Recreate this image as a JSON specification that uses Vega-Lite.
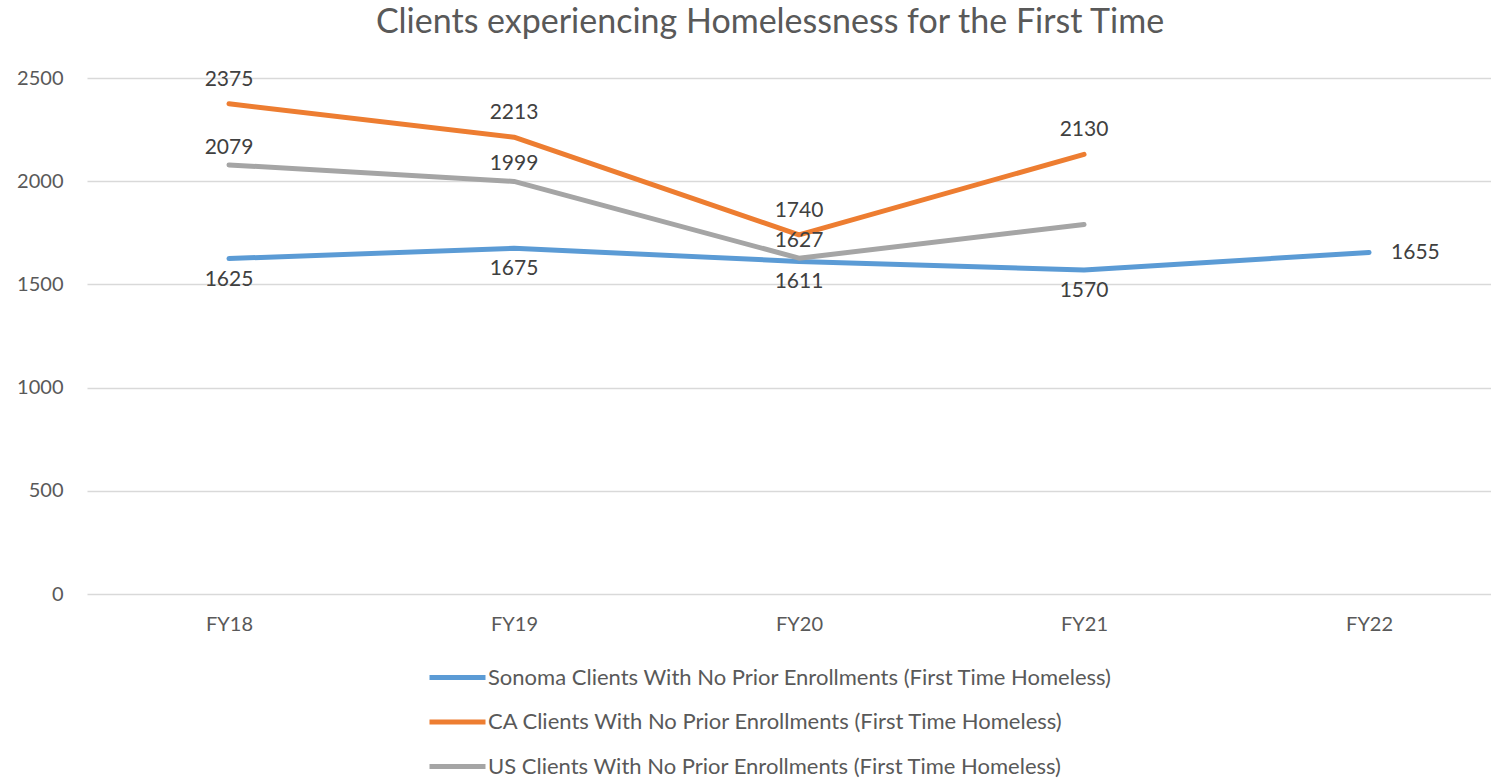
{
  "$schema": "https://vega.github.io/schema/vega-lite/v6.json",
  "autosize": "none",
  "width": 1404,
  "height": 516,
  "padding": {"left": 87, "top": 78, "right": 0, "bottom": 184},
  "background": "white",
  "title": {
    "text": "Clients experiencing Homelessness for the First Time",
    "font": "Lato",
    "fontSize": 34,
    "fontWeight": "normal",
    "color": "#595959",
    "anchor": "middle",
    "dx": -19,
    "offset": 28
  },
  "config": {
    "view": {"stroke": null},
    "font": "Lato"
  },
  "data": {
    "values": [
      {"series": "Sonoma Clients With No Prior Enrollments (First Time Homeless)", "year": "FY18", "value": 1625},
      {"series": "Sonoma Clients With No Prior Enrollments (First Time Homeless)", "year": "FY19", "value": 1675},
      {"series": "Sonoma Clients With No Prior Enrollments (First Time Homeless)", "year": "FY20", "value": 1611},
      {"series": "Sonoma Clients With No Prior Enrollments (First Time Homeless)", "year": "FY21", "value": 1570},
      {"series": "Sonoma Clients With No Prior Enrollments (First Time Homeless)", "year": "FY22", "value": 1655},
      {"series": "CA Clients With No Prior Enrollments (First Time Homeless)", "year": "FY18", "value": 2375},
      {"series": "CA Clients With No Prior Enrollments (First Time Homeless)", "year": "FY19", "value": 2213},
      {"series": "CA Clients With No Prior Enrollments (First Time Homeless)", "year": "FY20", "value": 1740},
      {"series": "CA Clients With No Prior Enrollments (First Time Homeless)", "year": "FY21", "value": 2130},
      {"series": "US Clients With No Prior Enrollments (First Time Homeless)", "year": "FY18", "value": 2079},
      {"series": "US Clients With No Prior Enrollments (First Time Homeless)", "year": "FY19", "value": 1999},
      {"series": "US Clients With No Prior Enrollments (First Time Homeless)", "year": "FY20", "value": 1627},
      {"series": "US Clients With No Prior Enrollments (First Time Homeless)", "year": "FY21", "value": 1790}
    ]
  },
  "encoding": {
    "x": {
      "field": "year",
      "type": "ordinal",
      "sort": ["FY18", "FY19", "FY20", "FY21", "FY22"],
      "scale": {"type": "point", "domain": ["FY18", "FY19", "FY20", "FY21", "FY22"], "padding": 0.463, "align": 0.538},
      "axis": {
        "title": null,
        "domain": false,
        "ticks": false,
        "grid": false,
        "labelAngle": 0,
        "labelFont": "Lato",
        "labelFontSize": 20,
        "labelColor": "#595959",
        "labelPadding": 20
      }
    },
    "y": {
      "field": "value",
      "type": "quantitative",
      "scale": {"domain": [0, 2500], "nice": false},
      "axis": {
        "title": null,
        "values": [0, 500, 1000, 1500, 2000, 2500],
        "format": "d",
        "domain": false,
        "ticks": false,
        "grid": true,
        "gridColor": "#D9D9D9",
        "gridWidth": 1.3,
        "labelFont": "Lato",
        "labelFontSize": 20,
        "labelColor": "#595959",
        "labelPadding": 24
      }
    }
  },
  "layer": [
    {
      "mark": {"type": "line", "strokeWidth": 5, "strokeCap": "round", "strokeJoin": "round"},
      "encoding": {
        "color": {
          "field": "series",
          "type": "nominal",
          "scale": {
            "domain": [
              "Sonoma Clients With No Prior Enrollments (First Time Homeless)",
              "CA Clients With No Prior Enrollments (First Time Homeless)",
              "US Clients With No Prior Enrollments (First Time Homeless)"
            ],
            "range": ["#5B9BD5", "#ED7D31", "#A5A5A5"]
          },
          "legend": {
            "title": null,
            "orient": "none",
            "direction": "vertical",
            "legendX": 340,
            "legendY": 569,
            "symbolType": "stroke",
            "symbolSize": 3136,
            "symbolStrokeWidth": 5,
            "labelFont": "Lato",
            "labelFontSize": 22,
            "labelColor": "#595959",
            "labelLimit": 1000,
            "labelOffset": 0,
            "rowPadding": 2.5
          }
        }
      }
    },
    {
      "transform": [{"filter": "indexof(datum.series, 'CA ') === 0"}],
      "mark": {"type": "text", "dy": -24, "baseline": "middle", "font": "Lato", "fontSize": 21, "color": "#404040"},
      "encoding": {"text": {"field": "value", "type": "quantitative"}}
    },
    {
      "transform": [{"filter": "indexof(datum.series, 'US ') === 0 && datum.year !== 'FY21'"}],
      "mark": {"type": "text", "dy": -17, "baseline": "middle", "font": "Lato", "fontSize": 21, "color": "#404040"},
      "encoding": {"text": {"field": "value", "type": "quantitative"}}
    },
    {
      "transform": [{"filter": "indexof(datum.series, 'Sonoma') === 0 && datum.year !== 'FY22'"}],
      "mark": {"type": "text", "dy": 21, "baseline": "middle", "font": "Lato", "fontSize": 21, "color": "#404040"},
      "encoding": {"text": {"field": "value", "type": "quantitative"}}
    },
    {
      "transform": [{"filter": "indexof(datum.series, 'Sonoma') === 0 && datum.year === 'FY22'"}],
      "mark": {"type": "text", "dx": 22, "dy": 1, "align": "left", "baseline": "middle", "font": "Lato", "fontSize": 21, "color": "#404040"},
      "encoding": {"text": {"field": "value", "type": "quantitative"}}
    }
  ]
}
